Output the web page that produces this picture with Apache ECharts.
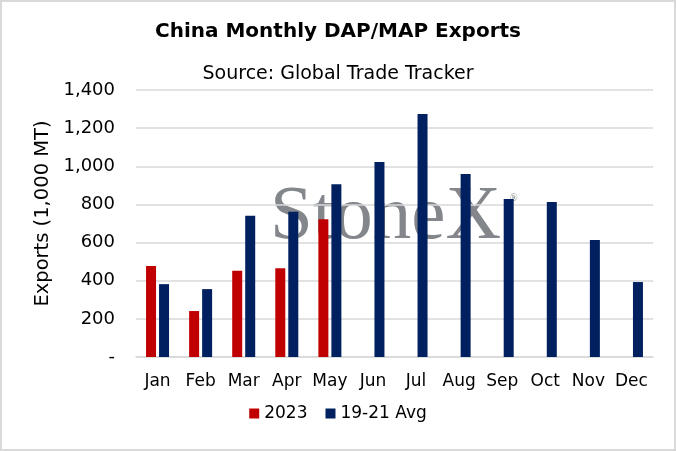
<!DOCTYPE html>
<html>
<head>
<meta charset="utf-8">
<script src="https://cdn.jsdelivr.net/npm/echarts@6/dist/echarts.min.js"></script>
<style>
  html, body { margin: 0; padding: 0; background: #fff; }
  #main { width: 672px; height: 447px; border: 2px solid #d9d9d9; }
</style>
</head>
<body>
<div id="main"></div>
<script>
var months = ['Jan', 'Feb', 'Mar', 'Apr', 'May', 'Jun', 'Jul', 'Aug', 'Sep', 'Oct', 'Nov', 'Dec'];
var exports2023 = [477, 241, 452, 466, 722];
var avg1921 = [382, 356, 740, 761, 906, 1023, 1274, 960, 829, 813, 613, 393];

var font = 'DejaVu Sans';

var myChart = echarts.init(document.getElementById('main'));

var option = {
    animation: false,
    title: [{
        text: 'China Monthly DAP/MAP Exports',
        left: 'center',
        top: 15,
        textStyle: { fontFamily: font, fontSize: 20, fontWeight: 'bold', color: '#000' }
    }, {
        text: 'Source: Global Trade Tracker',
        left: 'center',
        top: 58,
        textStyle: { fontFamily: font, fontSize: 19, fontWeight: 'normal', color: '#000' }
    }],
    graphic: [{
        type: 'text',
        left: 268,
        top: 177,
        z: 0,
        style: {
            text: 'StoneX',
            fontSize: 77,
            fontFamily: 'Liberation Serif',
            fill: '#83868b'
        }
    }, {
        type: 'text',
        left: 508,
        top: 191,
        z: 0,
        style: { text: '®', fontSize: 10, fontFamily: 'Liberation Serif', fill: '#83868b' }
    }],
    legend: {
        bottom: 22,
        left: 'center',
        itemWidth: 10,
        itemHeight: 10,
        itemGap: 18,
        icon: 'rect',
        textStyle: { fontFamily: font, fontSize: 17, color: '#000' },
        data: ['2023', '19-21 Avg']
    },
    grid: { left: 134, right: 21, top: 88, bottom: 92 },
    xAxis: {
        type: 'category',
        data: months,
        axisTick: { show: false },
        axisLine: { lineStyle: { color: '#d9d9d9', width: 1.5 } },
        axisLabel: { interval: 0, fontFamily: font, fontSize: 17, color: '#000', margin: 16 }
    },
    yAxis: {
        type: 'value',
        min: 0,
        max: 1400,
        interval: 200,
        name: 'Exports (1,000 MT)',
        nameLocation: 'middle',
        nameGap: 83,
        nameTextStyle: { fontFamily: font, fontSize: 19.5, color: '#000', padding: [0, 0, 0, 20] },
        splitLine: { lineStyle: { color: '#d9d9d9', width: 1.5 } },
        axisLabel: {
            fontFamily: font, fontSize: 18, color: '#000', margin: 21,
            formatter: function (v) { return v === 0 ? '-' : v.toLocaleString('en-US'); }
        }
    },
    series: [{
        name: '2023',
        type: 'bar',
        data: exports2023,
        barWidth: 10,
        barGap: '30%',
        itemStyle: { color: '#c00000' }
    }, {
        name: '19-21 Avg',
        type: 'bar',
        data: avg1921,
        barWidth: 10,
        itemStyle: { color: '#002060' }
    }]
};

myChart.setOption(option);
</script>
</body>
</html>
